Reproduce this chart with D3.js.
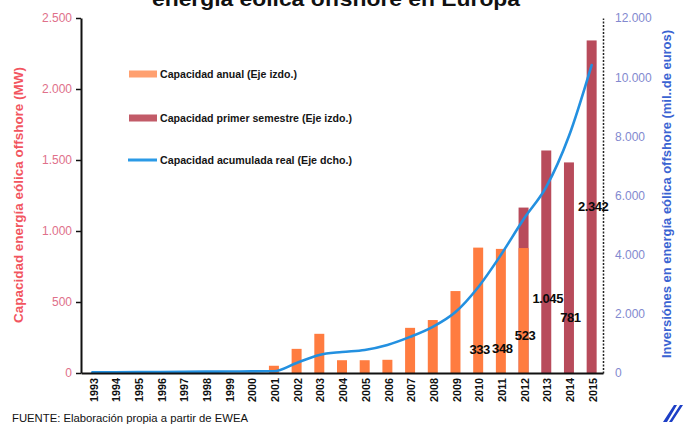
<!DOCTYPE html>
<html>
<head>
<meta charset="utf-8">
<script src="https://cdn.jsdelivr.net/npm/d3@7"></script>
<style>
  html, body { margin: 0; padding: 0; background: #fff; }
  svg { display: block; font-family: "Liberation Sans", Arial, sans-serif; }
</style>
</head>
<body>
<svg id="chart" width="685" height="425"></svg>
<script>
// Years on the horizontal axis
const years = ["1993","1994","1995","1996","1997","1998","1999","2000","2001","2002","2003","2004",
               "2005","2006","2007","2008","2009","2010","2011","2012","2013","2014","2015"];

// Annual installed capacity, MW (left axis)
const annualMW = [0,0,0,0,0,0,0,0,51,170,276,90,90,93,318,373,577,883,874,880,null,null,null];

// First-semester capacity bars, MW (left axis)
const firstHalfMW = [null,null,null,null,null,null,null,null,null,null,null,null,
                     null,null,null,null,null,null,null,1165,1567,1483,2342];

// First-semester values printed on the chart, MW
const firstHalfLabelMW = [null,null,null,null,null,null,null,null,null,null,null,null,
                          null,null,null,null,null,333,348,523,1045,781,2342];

// Cumulative investment, millions of euros (right axis)
const investment = [20,25,30,35,40,45,50,55,60,340,610,710,780,950,1220,1560,2060,2900,3990,5200,6290,8010,10410];

// Axis ticks
const leftTicks = [0,500,1000,1500,2000,2500];
const rightTicks = [0,2000,4000,6000,8000,10000,12000];

// Legend entries
const legendItems = [
  { label: "Capacidad anual (Eje izdo.)", kind: "rect", color: "#ffa070", len: 137 },
  { label: "Capacidad primer semestre (Eje izdo.)", kind: "rect", color: "#c25b68", len: 192 },
  { label: "Capacidad acumulada real (Eje dcho.)", kind: "line", color: "#2b9ae6", len: 192 }
];

const es = d3.formatLocale({ decimal: ",", thousands: ".", grouping: [3], currency: ["", " €"] });
const fmt = es.format(",d");

const svg = d3.select("#chart");

const x = d3.scaleBand().domain(years).range([81, 603]).paddingInner(0.56).paddingOuter(0.28);
const yL = d3.scaleLinear().domain([0, 2500]).range([373, 18]);
const yR = d3.scaleLinear().domain([0, 12000]).range([373, 18]);
const cx = d => x(d) + x.bandwidth() / 2;

// Title (second line of the heading, partly above the frame)
svg.append("text")
  .attr("x", 336).attr("y", 6)
  .attr("text-anchor", "middle")
  .attr("font-size", 20).attr("font-weight", "bold").attr("fill", "#111")
  .attr("textLength", 368).attr("lengthAdjust", "spacingAndGlyphs")
  .text("energía eólica offshore en Europa");

// First-semester bars
const redData = years.map((y, i) => ({ year: y, v: firstHalfMW[i] })).filter(d => d.v != null);
svg.append("g").selectAll("rect").data(redData).join("rect")
  .attr("x", d => x(d.year)).attr("width", x.bandwidth())
  .attr("y", d => yL(d.v)).attr("height", d => yL(0) - yL(d.v))
  .attr("fill", "#b84b5b");

// Annual bars
const orangeData = years.map((y, i) => ({ year: y, v: annualMW[i] })).filter(d => d.v);
svg.append("g").selectAll("rect").data(orangeData).join("rect")
  .attr("x", d => x(d.year)).attr("width", x.bandwidth())
  .attr("y", d => yL(d.v)).attr("height", d => yL(0) - yL(d.v))
  .attr("fill", "#ff7c40");

// Cumulative investment line
const lineData = years.map((y, i) => ({ year: y, v: investment[i] }));
svg.append("path")
  .datum(lineData)
  .attr("fill", "none").attr("stroke", "#2390e0").attr("stroke-width", 2.6)
  .attr("stroke-linejoin", "round").attr("stroke-linecap", "round")
  .attr("d", d3.line().x(d => cx(d.year)).y(d => yR(d.v)).curve(d3.curveMonotoneX));

// Left axis
const gL = svg.append("g").attr("transform", "translate(81,0)")
  .call(d3.axisLeft(yL).tickValues(leftTicks).tickFormat(fmt).tickSize(5).tickSizeOuter(0).tickPadding(4));
gL.select(".domain").attr("stroke", "#111").attr("stroke-width", 2);
gL.selectAll(".tick line").attr("stroke", "#111").attr("stroke-width", 1.5);
gL.selectAll(".tick text").attr("fill", "#e0708a").attr("font-size", 12)
  .attr("font-family", "Liberation Sans, Arial, sans-serif");

// Right axis
const gR = svg.append("g").attr("transform", "translate(603,0)")
  .call(d3.axisRight(yR).tickValues(rightTicks).tickFormat(fmt).tickSize(0).tickSizeOuter(0).tickPadding(12));
gR.select(".domain").attr("stroke", "#222").attr("stroke-width", 1.5).attr("stroke-dasharray", "2,1.5");
gR.selectAll(".tick text").attr("fill", "#8289cf").attr("font-size", 12)
  .attr("font-family", "Liberation Sans, Arial, sans-serif");

// Bottom axis with vertical year labels
const gB = svg.append("g").attr("transform", "translate(0,373)")
  .call(d3.axisBottom(x).tickSize(0).tickSizeOuter(0));
gB.select(".domain").attr("stroke", "#111").attr("stroke-width", 2);
gB.selectAll(".tick text")
  .attr("transform", "rotate(-90)")
  .attr("text-anchor", "end")
  .attr("x", -5).attr("y", 1.5).attr("dy", "0.35em")
  .attr("font-size", 10.5).attr("font-weight", "bold").attr("fill", "#111")
  .attr("font-family", "Liberation Sans, Arial, sans-serif")
  .attr("textLength", 24).attr("lengthAdjust", "spacingAndGlyphs");

// First-semester value labels, centred on half the value
const labelData = years.map((y, i) => ({ year: y, v: firstHalfLabelMW[i] })).filter(d => d.v != null);
svg.append("g").selectAll("text").data(labelData).join("text")
  .attr("x", d => cx(d.year) + 1.5).attr("y", d => yL(d.v / 2))
  .attr("dy", "0.35em").attr("text-anchor", "middle")
  .attr("font-size", 13).attr("font-weight", "bold").attr("fill", "#0a0a0a")
  .attr("letter-spacing", -0.4)
  .text(d => fmt(d.v));

// Axis titles
svg.append("text")
  .attr("transform", "translate(23,195) rotate(-90)")
  .attr("text-anchor", "middle")
  .attr("font-size", 12.5).attr("font-weight", "bold").attr("fill", "#f2555f")
  .attr("textLength", 256).attr("lengthAdjust", "spacingAndGlyphs")
  .text("Capacidad energía eólica offshore (MW)");

svg.append("text")
  .attr("transform", "translate(671,194) rotate(-90)")
  .attr("text-anchor", "middle")
  .attr("font-size", 12.5).attr("font-weight", "bold").attr("fill", "#3a63d2")
  .attr("textLength", 328).attr("lengthAdjust", "spacingAndGlyphs")
  .text("Inversiónes en energía eólica offshore (mil..de euros)");

// Legend
const leg = svg.append("g");
legendItems.forEach((d, i) => {
  const yy = [74, 118, 160][i];
  if (d.kind === "rect") {
    leg.append("rect").attr("x", 129).attr("y", yy - 3.5).attr("width", 28).attr("height", 7).attr("fill", d.color);
  } else {
    leg.append("line").attr("x1", 128).attr("x2", 157).attr("y1", yy).attr("y2", yy)
      .attr("stroke", d.color).attr("stroke-width", 3);
  }
  leg.append("text").attr("x", 160).attr("y", yy).attr("dy", "0.35em")
    .attr("font-size", 10).attr("font-weight", "bold").attr("fill", "#151515")
    .attr("textLength", d.len).attr("lengthAdjust", "spacingAndGlyphs")
    .text(d.label);
});

// Source note
svg.append("text")
  .attr("x", 12).attr("y", 422)
  .attr("font-size", 11).attr("fill", "#111")
  .attr("textLength", 236).attr("lengthAdjust", "spacingAndGlyphs")
  .text("FUENTE:  Elaboración  propia a partir de EWEA");

// Small publisher mark, bottom right
svg.append("path")
  .attr("d", "M663,422 L674,405 L677,405 L667,422 Z M669,422 L680,405 L683,405 L672,422 Z")
  .attr("fill", "#1d3fc6");
</script>
</body>
</html>
